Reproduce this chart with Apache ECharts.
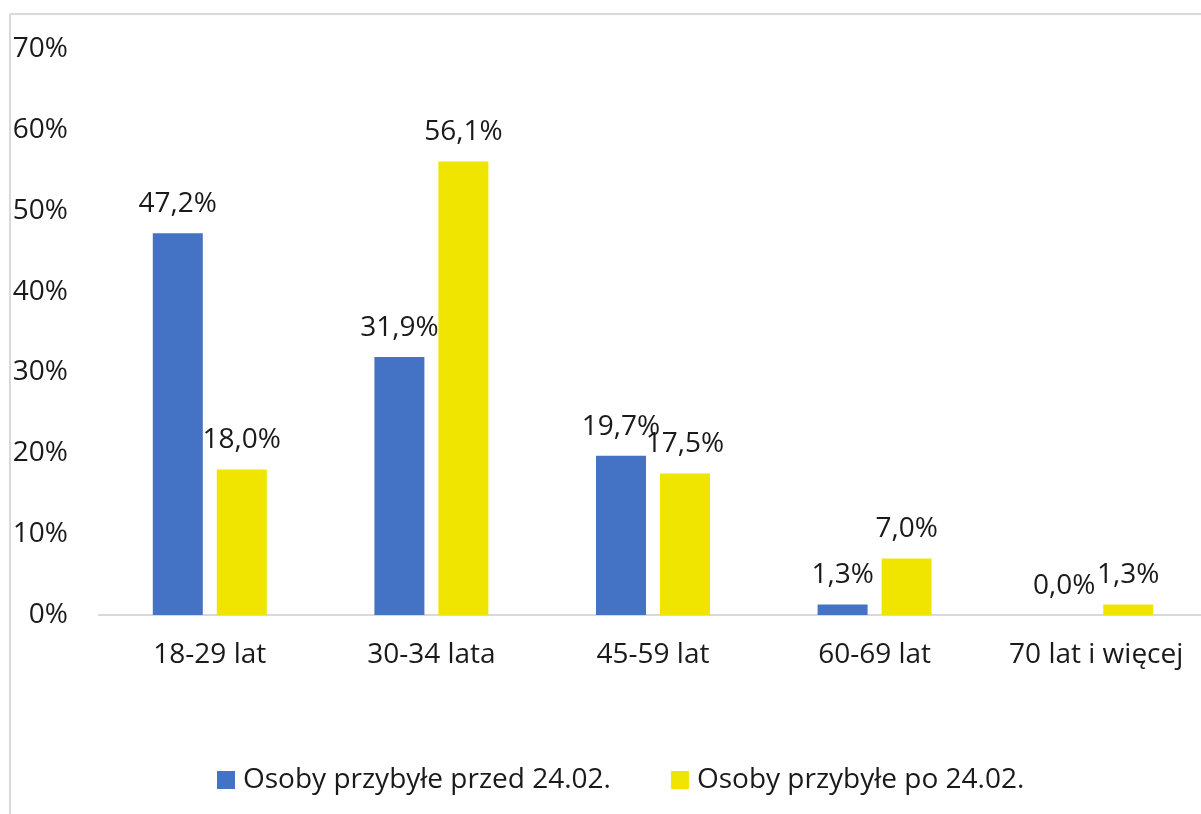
<!DOCTYPE html>
<html lang="pl">
<head>
<meta charset="utf-8">
<title>Struktura wieku</title>
<script src="https://cdn.jsdelivr.net/npm/echarts@6/dist/echarts.min.js"></script>
<style>
  html, body { margin: 0; padding: 0; background: #fff; }
  #chart { width: 1201px; height: 814px; }
</style>
</head>
<body>
<div id="chart"></div>
<script>
// Age groups and shares (%) for the two arrival groups
const categories = ['18-29 lat', '30-34 lata', '45-59 lat', '60-69 lat', '70 lat i więcej'];
const seriesNames = ['Osoby przybyłe przed 24.02.', 'Osoby przybyłe po 24.02.'];
const beforeValues = [47.2, 31.9, 19.7, 1.3, 0.0];
const afterValues = [18.0, 56.1, 17.5, 7.0, 1.3];
const yTicks = { min: 0, max: 70, interval: 10 };

const FONT = "'Open Sans', 'Noto Sans', sans-serif";
const TEXT = '#1a1a1a';
const WEIGHT = 400;
const SIZE = 28;
const colors = ['#4472C4', '#F0E500'];

const fmt = v => v.toFixed(1).replace('.', ',') + '%';

const chart = echarts.init(document.getElementById('chart'), null, { renderer: 'canvas' });

function barSeries(name, values, color) {
  return {
    name: name,
    type: 'bar',
    data: values,
    barWidth: 50,
    barGap: '28%',
    itemStyle: { color: color },
    label: {
      show: true,
      position: 'top',
      distance: 15,
      formatter: p => fmt(p.value),
      fontFamily: FONT,
      fontSize: SIZE,
      fontWeight: WEIGHT,
      color: TEXT
    }
  };
}

chart.setOption({
  animation: false,
  backgroundColor: '#ffffff',
  textStyle: { fontFamily: FONT },
  // plot area runs slightly past the right edge of the canvas
  grid: {
    left: 99, width: 1108, top: 49, height: 566,
    containLabel: false, outerBoundsMode: 'none'
  },
  legend: {
    left: 217,
    top: 766,
    padding: 0,
    itemWidth: 18,
    itemHeight: 18,
    itemGap: 60,
    icon: 'rect',
    textStyle: {
      fontFamily: FONT,
      fontSize: SIZE,
      fontWeight: WEIGHT,
      color: TEXT,
      padding: [0, 0, 0, 3]
    },
    data: seriesNames
  },
  xAxis: {
    type: 'category',
    data: categories,
    axisLine: { show: true, lineStyle: { color: '#D9D9D9', width: 2 } },
    axisTick: { show: false },
    axisLabel: {
      margin: 26,
      fontFamily: FONT,
      fontSize: SIZE,
      fontWeight: WEIGHT,
      color: TEXT,
      interval: 0
    }
  },
  yAxis: {
    type: 'value',
    min: yTicks.min,
    max: yTicks.max,
    interval: yTicks.interval,
    splitLine: { show: false },
    axisLine: { show: false },
    axisTick: { show: false },
    axisLabel: {
      margin: 31,
      formatter: v => v + '%',
      fontFamily: FONT,
      fontSize: SIZE,
      fontWeight: WEIGHT,
      color: TEXT
    }
  },
  graphic: [
    // outer frame lines (top and left)
    { type: 'line', shape: { x1: 10, y1: 14, x2: 1201, y2: 14 }, style: { stroke: '#D9D9D9', lineWidth: 2 }, silent: true },
    { type: 'line', shape: { x1: 10, y1: 14, x2: 10, y2: 814 }, style: { stroke: '#D9D9D9', lineWidth: 2 }, silent: true }
  ],
  series: [
    barSeries(seriesNames[0], beforeValues, colors[0]),
    barSeries(seriesNames[1], afterValues, colors[1])
  ]
});
</script>
</body>
</html>
